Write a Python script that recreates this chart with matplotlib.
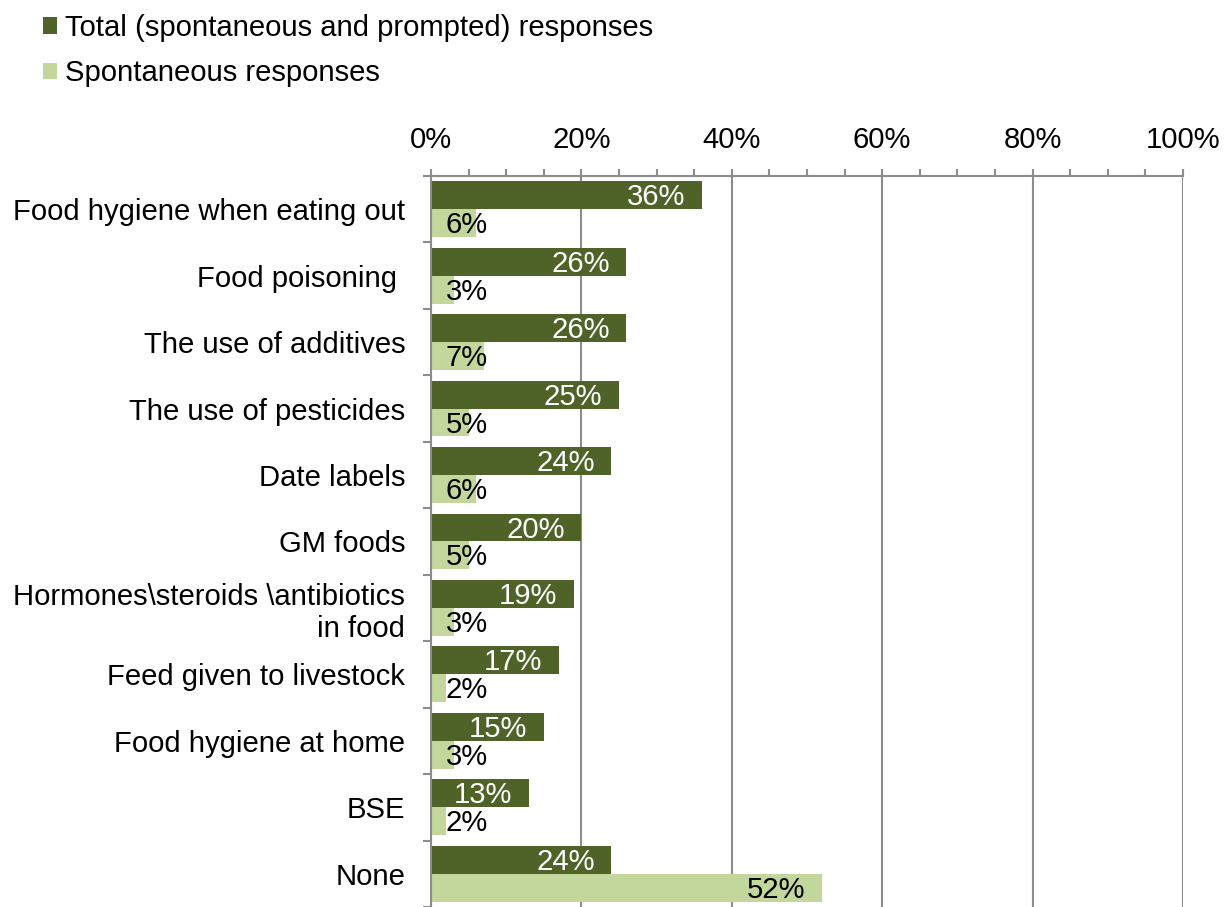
import numpy as np
import matplotlib.pyplot as plt
from matplotlib.ticker import MultipleLocator, FixedLocator, PercentFormatter

plt.rcParams['font.family'] = ['Liberation Sans', 'DejaVu Sans']

categories = [
    "Food hygiene when eating out",
    "Food poisoning ",
    "The use of additives",
    "The use of pesticides",
    "Date labels",
    "GM foods",
    "Hormones\\steroids \\antibiotics\nin food",
    "Feed given to livestock",
    "Food hygiene at home",
    "BSE",
    "None",
]
total = [36, 26, 26, 25, 24, 20, 19, 17, 15, 13, 24]
spontaneous = [6, 3, 7, 5, 6, 5, 3, 2, 3, 2, 52]
series_names = ["Total (spontaneous and prompted) responses", "Spontaneous responses"]

dark = "#4F6228"
light = "#C3D69B"
grid_col = "#8C8C8C"
fs = 21.1

fig = plt.figure(figsize=(12.25, 9.07), dpi=100)
ax = fig.add_axes([0.3518, 0.0, 0.6139, 0.806])

n = len(categories)
pos = np.arange(n)
h = 0.42
ax.barh(pos - h / 2, total, height=h, color=dark, label=series_names[0], zorder=2)
ax.barh(pos + h / 2, spontaneous, height=h, color=light, label=series_names[1], zorder=2)

# value labels: inside end, pushed out to the base for short bars
def put_labels(vals, y_off, col):
    for i, v in enumerate(vals):
        if v >= 10:
            ax.text(v - 2.2, i + y_off + 0.03, f"{v}%", ha="right", va="center",
                    color=col, fontsize=fs, zorder=3)
        else:
            ax.text(2.0, i + y_off + 0.03, f"{v}%", ha="left", va="center",
                    color="black", fontsize=fs, zorder=3)

put_labels(total, -h / 2, "white")
put_labels(spontaneous, h / 2, "black")

ax.set_xlim(0, 100)
ax.set_ylim(n - 0.5, -0.5)
ax.xaxis.tick_top()
ax.xaxis.set_major_locator(MultipleLocator(20))
ax.xaxis.set_minor_locator(MultipleLocator(5))
ax.xaxis.set_major_formatter(PercentFormatter(decimals=0))
ax.tick_params(axis="x", which="both", direction="out", length=5, width=1.5,
               color=grid_col, labelsize=fs, pad=11)
ax.grid(axis="x", which="major", color=grid_col, linewidth=1.5, zorder=0)

# category ticks sit on group boundaries, labels at group centres
ax.yaxis.set_major_locator(FixedLocator(np.arange(n + 1) - 0.5))
ax.yaxis.set_major_formatter(plt.NullFormatter())
ax.yaxis.set_minor_locator(FixedLocator(pos))
ax.set_yticklabels(categories, minor=True)
ax.tick_params(axis="y", which="major", direction="out", length=6, width=1.5, color=grid_col)
ax.tick_params(axis="y", which="minor", length=0, labelsize=fs, pad=18.5)
for lbl in ax.get_yticklabels(minor=True):
    lbl.set_horizontalalignment("right")
    lbl.set_multialignment("right")

for side in ("right", "bottom"):
    ax.spines[side].set_visible(False)
for side in ("top", "left"):
    ax.spines[side].set_color(grid_col)
    ax.spines[side].set_linewidth(1.5)

fig.legend(loc="upper left", bbox_to_anchor=(0.0351, 0.9846), frameon=False, fontsize=fs,
           handlelength=0.48, handleheight=0.48, handletextpad=0.27, labelspacing=0.59,
           borderpad=0, borderaxespad=0)

fig.savefig("out.png", dpi=100)
